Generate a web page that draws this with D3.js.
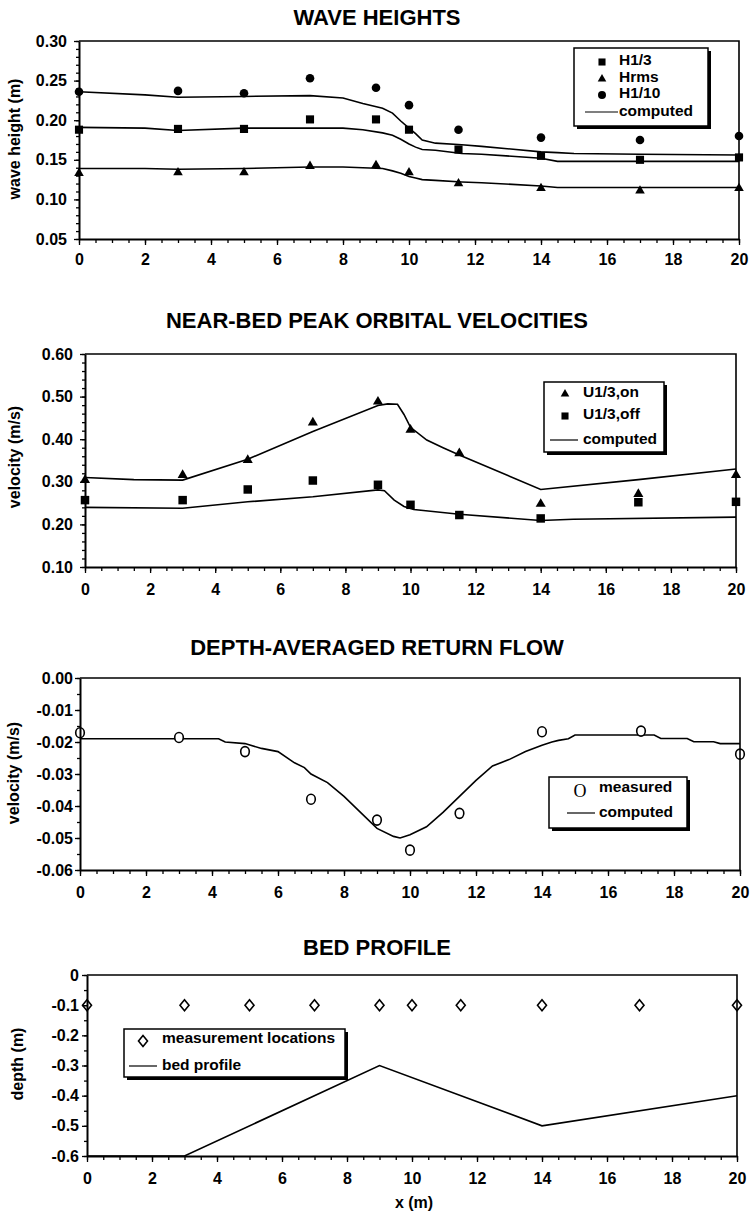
<!DOCTYPE html>
<html>
<head>
<meta charset="utf-8">
<script src="https://cdn.jsdelivr.net/npm/d3@7"></script>
<style>
  body { margin: 0; background: #fff; }
  svg { font-family: "Liberation Sans", Arial, sans-serif; font-weight: bold; }
</style>
</head>
<body>
<svg id="chart" width="750" height="1215"></svg>
<script>

// measurement stations (m)
var x_meas = [0, 3, 5, 7, 9, 10, 11.5, 14, 17, 20];

// wave heights (m)
var h13_meas  = [0.188, 0.189, 0.189, 0.201, 0.201, 0.188, 0.163, 0.155, 0.150, 0.153];
var hrms_meas = [0.133, 0.134, 0.134, 0.142, 0.143, 0.134, 0.120, 0.114, 0.111, 0.114];
var h110_meas = [0.236, 0.237, 0.234, 0.253, 0.241, 0.219, 0.188, 0.178, 0.175, 0.180];

var x_wave_comp = [0, 2, 3, 5, 7, 8, 8.6, 9.2, 9.5, 9.75, 10, 10.2, 10.4, 10.8, 11.6, 12.2, 14, 14.5, 15, 17, 20];
var h110_comp = [0.236, 0.232, 0.229, 0.230, 0.231, 0.228, 0.221, 0.215, 0.209, 0.199, 0.190, 0.183, 0.175, 0.171, 0.169, 0.167, 0.160, 0.159, 0.158, 0.157, 0.156];
var h13_comp  = [0.191, 0.190, 0.187, 0.190, 0.190, 0.190, 0.188, 0.184, 0.181, 0.176, 0.170, 0.166, 0.163, 0.162, 0.158, 0.157, 0.152, 0.148, 0.148, 0.148, 0.148];
var hrms_comp = [0.139, 0.139, 0.138, 0.139, 0.141, 0.141, 0.140, 0.139, 0.136, 0.133, 0.129, 0.127, 0.125, 0.124, 0.122, 0.121, 0.117, 0.115, 0.115, 0.115, 0.115];

// near-bed orbital velocities (m/s)
var u_on_meas  = [0.304, 0.316, 0.351, 0.439, 0.488, 0.422, 0.367, 0.248, 0.271, 0.316];
var u_off_meas = [0.257, 0.257, 0.282, 0.303, 0.293, 0.246, 0.222, 0.214, 0.252, 0.253];

var x_on_comp = [0, 1.5, 3, 5, 7, 9, 9.3, 9.6, 9.8, 10, 10.5, 11, 11.5, 14, 17, 20];
var u_on_comp = [0.310, 0.305, 0.304, 0.353, 0.418, 0.479, 0.483, 0.482, 0.458, 0.428, 0.398, 0.380, 0.363, 0.282, 0.305, 0.330];
var x_off_comp = [0, 3, 5, 7, 9, 9.2, 9.5, 9.8, 10.1, 11.5, 14, 15, 20];
var u_off_comp = [0.240, 0.238, 0.253, 0.265, 0.281, 0.279, 0.257, 0.242, 0.235, 0.224, 0.209, 0.212, 0.217];

// depth-averaged return flow (m/s)
var flow_meas = [-0.0171, -0.0186, -0.0230, -0.0379, -0.0444, -0.0538, -0.0423, -0.0168, -0.0166, -0.0238];
var x_flow_comp = [0, 4.2, 4.4, 5, 5.5, 6, 6.5, 6.8, 7, 7.5, 8, 8.5, 9, 9.5, 9.7, 10, 10.5, 11, 11.5, 12, 12.5, 13, 13.5, 14, 14.3, 14.5, 14.8, 15, 17.4, 17.6, 18.4, 18.6, 19.2, 19.4, 20];
var flow_comp = [-0.019, -0.019, -0.020, -0.0205, -0.022, -0.023, -0.0265, -0.028, -0.030, -0.0327, -0.037, -0.042, -0.047, -0.0495, -0.050, -0.049, -0.0465, -0.042, -0.037, -0.032, -0.0275, -0.0255, -0.023, -0.021, -0.020, -0.0195, -0.019, -0.0178, -0.0178, -0.0189, -0.0189, -0.0199, -0.0199, -0.0205, -0.0205];

// bed profile (m)
var x_bed = [0, 3, 9, 14, 20];
var z_bed = [-0.6, -0.6, -0.3, -0.5, -0.4];
var z_loc = [-0.1, -0.1, -0.1, -0.1, -0.1, -0.1, -0.1, -0.1, -0.1, -0.1];

// tick labels
var x_ticks = [0, 2, 4, 6, 8, 10, 12, 14, 16, 18, 20];
var wave_y_ticks = [0.05, 0.10, 0.15, 0.20, 0.25, 0.30];
var vel_y_ticks = [0.10, 0.20, 0.30, 0.40, 0.50, 0.60];
var flow_y_ticks = [-0.06, -0.05, -0.04, -0.03, -0.02, -0.01, 0.00];
var bed_y_ticks = [-0.6, -0.5, -0.4, -0.3, -0.2, -0.1, 0];

var svg = d3.select('#chart');

function steps(lo, hi, step) {
  var n = Math.round((hi - lo) / step);
  return d3.range(n + 1).map(function(i) { return lo + i * step; });
}

function draw_panel(p) {

  var x = d3.scaleLinear().domain([0, 20]).range(p.x_range);
  var y = d3.scaleLinear().domain(p.y_domain).range(p.y_range);
  var g = svg.append('g').attr('class', 'panel');

  g.append('text')
    .attr('x', 377)
    .attr('y', p.title_y)
    .attr('text-anchor', 'middle')
    .style('font-size', '22px')
    .text(p.title);

  g.append('text')
    .attr('transform', 'translate(' + p.ylab_x + ',' + p.ylab_y + ') rotate(-90)')
    .attr('text-anchor', 'middle')
    .attr('dy', '0.35em')
    .style('font-size', '16px')
    .text(p.ylab);

  // computed lines
  var line = d3.line()
    .x(function(d) { return x(d[0]); })
    .y(function(d) { return y(d[1]); });

  p.lines.forEach(function(l) {
    g.append('path')
      .datum(d3.zip(l.x, l.y))
      .attr('d', line)
      .attr('fill', 'none')
      .attr('stroke', '#000')
      .attr('stroke-width', l.width || 1.6);
  });

  // measured points
  p.points.forEach(function(s) {
    var pts = d3.zip(x_meas, s.y);
    if (s.kind === 'ring') {
      g.selectAll(null)
        .data(pts)
        .enter()
        .append('ellipse')
        .attr('cx', function(d) { return x(d[0]); })
        .attr('cy', function(d) { return y(d[1]); })
        .attr('rx', 4.3)
        .attr('ry', 5)
        .attr('fill', '#fff')
        .attr('stroke', '#000')
        .attr('stroke-width', 1.6);
    } else if (s.kind === 'diamond') {
      g.selectAll(null)
        .data(pts)
        .enter()
        .append('path')
        .attr('transform', function(d) { return 'translate(' + x(d[0]) + ',' + y(d[1]) + ')'; })
        .attr('d', 'M0,-5.5L4.5,0L0,5.5L-4.5,0Z')
        .attr('fill', '#fff')
        .attr('stroke', '#000')
        .attr('stroke-width', 1.6);
    } else {
      g.selectAll(null)
        .data(pts)
        .enter()
        .append('path')
        .attr('transform', function(d) { return 'translate(' + x(d[0]) + ',' + y(d[1]) + ')'; })
        .attr('d', d3.symbol().type(s.kind).size(s.size))
        .attr('fill', '#000');
    }
  });

  // minor ticks
  var minor_x = g.append('g')
    .attr('transform', 'translate(0,' + p.y_range[0] + ')')
    .call(d3.axisBottom(x).tickValues(steps(0, 20, 0.5)).tickSize(4).tickFormat(''));
  minor_x.select('.domain').remove();

  var minor_y = g.append('g')
    .attr('transform', 'translate(' + p.x_range[0] + ',0)')
    .call(d3.axisLeft(y).tickValues(steps(p.y_domain[0], p.y_domain[1], p.y_minor)).tickSize(3).tickFormat(''));
  minor_y.select('.domain').remove();

  // frame (top, right)
  g.append('path')
    .attr('d', 'M' + x(0) + ',' + y(p.y_domain[1]) + 'H' + x(20) + 'V' + y(p.y_domain[0]))
    .attr('fill', 'none')
    .attr('stroke', '#000')
    .attr('stroke-width', 1.6);

  // major axes
  var ax = g.append('g')
    .attr('transform', 'translate(0,' + p.y_range[0] + ')')
    .call(d3.axisBottom(x).tickValues(x_ticks).tickSize(6).tickSizeOuter(0).tickPadding(p.x_pad));

  var ay = g.append('g')
    .attr('transform', 'translate(' + p.x_range[0] + ',0)')
    .call(d3.axisLeft(y).tickValues(p.y_ticks).tickSize(5).tickSizeOuter(0).tickPadding(p.y_pad).tickFormat(p.y_fmt));

  [ax, ay].forEach(function(a) {
    a.attr('font-family', null).attr('font-size', 16);
    a.select('.domain').attr('stroke-width', 2);
    a.selectAll('text').attr('fill', '#000');
  });
  [minor_x, minor_y, ax, ay].forEach(function(a) {
    a.selectAll('line').attr('stroke', '#000').attr('stroke-width', 1.3);
  });

  draw_legend(g, p.legend, p.legend_items);
  return g;
}

function draw_legend(g, box, items) {
  var lg = g.append('g').attr('transform', 'translate(' + box.x + ',' + box.y + ')');

  lg.append('rect')
    .attr('x', 3).attr('y', 3)
    .attr('width', box.w).attr('height', box.h)
    .attr('fill', '#000');

  lg.append('rect')
    .attr('width', box.w).attr('height', box.h)
    .attr('fill', '#fff')
    .attr('stroke', '#000')
    .attr('stroke-width', 1.5);

  items.forEach(function(it) {
    if (it.kind === 'line') {
      lg.append('line')
        .attr('x1', it.x1).attr('x2', it.x2)
        .attr('y1', it.y + 1).attr('y2', it.y + 1)
        .attr('stroke', '#000')
        .attr('stroke-width', 1.2);
    } else if (it.kind === 'O') {
      lg.append('text')
        .attr('x', it.sx).attr('y', it.y + 4)
        .attr('dy', '0.35em')
        .attr('text-anchor', 'middle')
        .style('font-family', '"Liberation Serif", serif')
        .style('font-weight', 'normal')
        .style('font-size', '18px')
        .text('O');
    } else if (it.kind === 'diamond') {
      lg.append('path')
        .attr('transform', 'translate(' + it.sx + ',' + (it.y + 3) + ')')
        .attr('d', 'M0,-5.5L4.5,0L0,5.5L-4.5,0Z')
        .attr('fill', '#fff')
        .attr('stroke', '#000')
        .attr('stroke-width', 1.6);
    } else {
      lg.append('path')
        .attr('transform', 'translate(' + it.sx + ',' + (it.y + 2) + ')')
        .attr('d', d3.symbol().type(it.kind).size(it.size));
    }
    lg.append('text')
      .attr('x', it.lx)
      .attr('y', it.y)
      .attr('dy', '0.35em')
      .style('font-size', '15.5px')
      .text(it.label);
  });
}

var fmt2 = function(d) { return d.toFixed(2); };
var fmt1 = function(d) { return d === 0 ? '0' : d.toFixed(1); };

// WAVE HEIGHTS
draw_panel({
  title: 'WAVE HEIGHTS', title_y: 25,
  ylab: 'wave height (m)', ylab_x: 14, ylab_y: 139,
  x_range: [79, 739], y_domain: [0.05, 0.30], y_range: [239, 41],
  y_ticks: wave_y_ticks, y_minor: 0.01, y_fmt: fmt2, x_pad: 9, y_pad: 7,
  lines: [
    { x: x_wave_comp, y: h110_comp },
    { x: x_wave_comp, y: h13_comp },
    { x: x_wave_comp, y: hrms_comp }
  ],
  points: [
    { y: h13_meas, kind: d3.symbolSquare, size: 66 },
    { y: hrms_meas, kind: d3.symbolTriangle, size: 40 },
    { y: h110_meas, kind: d3.symbolCircle, size: 58 }
  ],
  legend: { x: 574, y: 48, w: 134, h: 78 },
  legend_items: [
    { kind: d3.symbolSquare, size: 50, sx: 28, y: 12, lx: 45, label: 'H1/3' },
    { kind: d3.symbolTriangle, size: 32, sx: 28, y: 29, lx: 45, label: 'Hrms' },
    { kind: d3.symbolCircle, size: 50, sx: 28, y: 45, lx: 45, label: 'H1/10' },
    { kind: 'line', x1: 11, x2: 44, y: 63, lx: 45, label: 'computed' }
  ]
});

// NEAR-BED PEAK ORBITAL VELOCITIES
draw_panel({
  title: 'NEAR-BED PEAK ORBITAL VELOCITIES', title_y: 328,
  ylab: 'velocity (m/s)', ylab_x: 14, ylab_y: 457,
  x_range: [85, 736], y_domain: [0.10, 0.60], y_range: [567, 354],
  y_ticks: vel_y_ticks, y_minor: 0.02, y_fmt: fmt2, x_pad: 11, y_pad: 7,
  lines: [
    { x: x_on_comp, y: u_on_comp },
    { x: x_off_comp, y: u_off_comp }
  ],
  points: [
    { y: u_on_meas, kind: d3.symbolTriangle, size: 44 },
    { y: u_off_meas, kind: d3.symbolSquare, size: 72 }
  ],
  legend: { x: 544, y: 382, w: 120, h: 70 },
  legend_items: [
    { kind: d3.symbolTriangle, size: 32, sx: 21, y: 10, lx: 39, label: 'U1/3,on' },
    { kind: d3.symbolSquare, size: 50, sx: 21, y: 32, lx: 39, label: 'U1/3,off' },
    { kind: 'line', x1: 6, x2: 34, y: 57, lx: 39, label: 'computed' }
  ]
});

// DEPTH-AVERAGED RETURN FLOW
draw_panel({
  title: 'DEPTH-AVERAGED RETURN FLOW', title_y: 655,
  ylab: 'velocity (m/s)', ylab_x: 13, ylab_y: 773,
  x_range: [80, 740], y_domain: [-0.06, 0.00], y_range: [870, 678],
  y_ticks: flow_y_ticks, y_minor: 0.005, y_fmt: fmt2, x_pad: 11, y_pad: 2,
  lines: [
    { x: x_flow_comp, y: flow_comp }
  ],
  points: [
    { y: flow_meas, kind: 'ring' }
  ],
  legend: { x: 549, y: 777, w: 138, h: 51 },
  legend_items: [
    { kind: 'O', sx: 31, y: 10, lx: 50, label: 'measured' },
    { kind: 'line', x1: 18, x2: 46, y: 35, lx: 50, label: 'computed' }
  ]
});

// BED PROFILE
draw_panel({
  title: 'BED PROFILE', title_y: 955,
  ylab: 'depth (m)', ylab_x: 17, ylab_y: 1064,
  x_range: [87, 737], y_domain: [-0.6, 0], y_range: [1156, 975],
  y_ticks: bed_y_ticks, y_minor: 0.05, y_fmt: fmt1, x_pad: 11, y_pad: 3,
  lines: [
    { x: x_bed, y: z_bed }
  ],
  points: [
    { y: z_loc, kind: 'diamond' }
  ],
  legend: { x: 124, y: 1029, w: 221, h: 48 },
  legend_items: [
    { kind: 'diamond', sx: 19, y: 9, lx: 38, label: 'measurement locations' },
    { kind: 'line', x1: 5, x2: 33, y: 36, lx: 38, label: 'bed profile' }
  ]
});

svg.append('text')
  .attr('x', 414)
  .attr('y', 1208)
  .attr('text-anchor', 'middle')
  .style('font-size', '16px')
  .text('x (m)');

</script>
</body>
</html>
